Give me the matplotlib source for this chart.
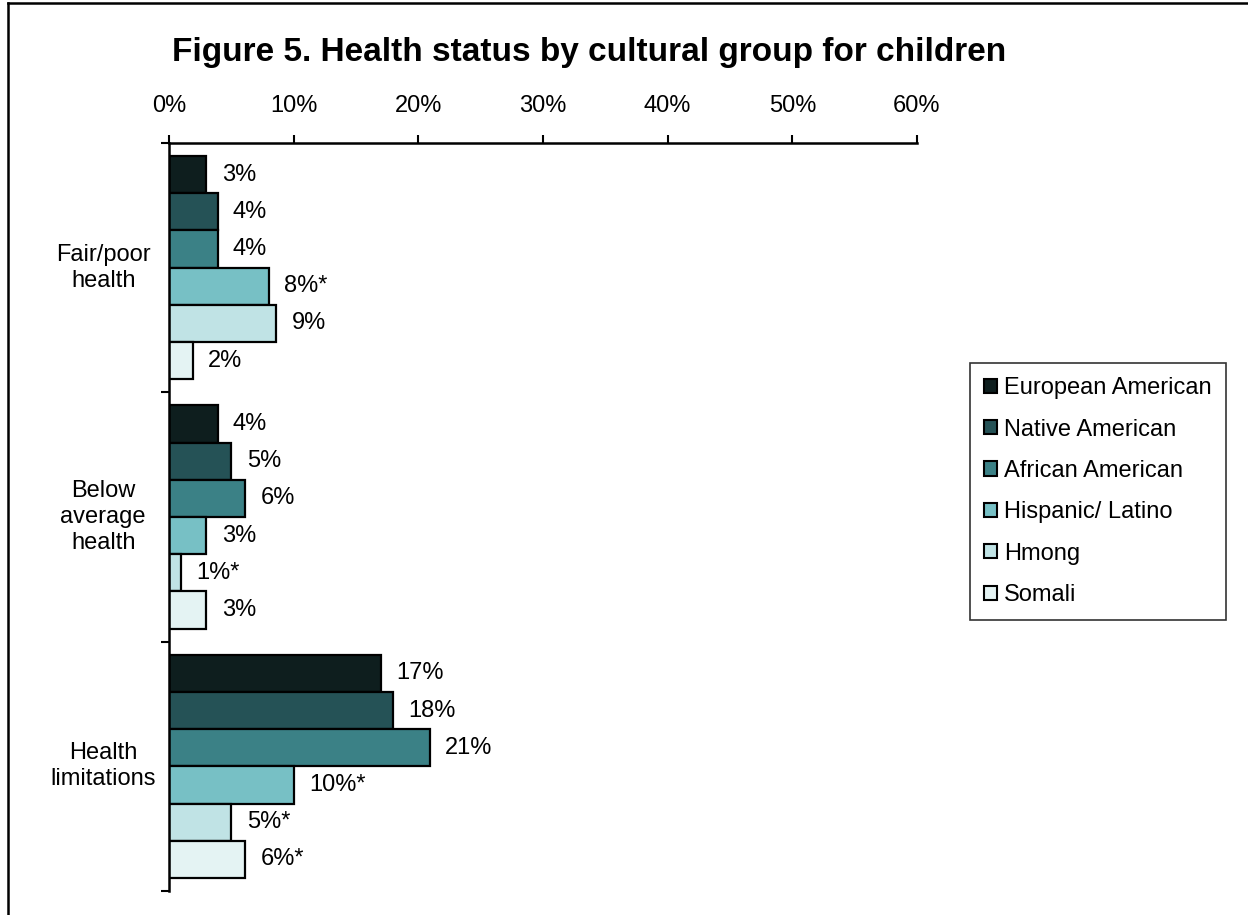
import numpy as np
import matplotlib
matplotlib.use('Agg')
from matplotlib import pyplot as plt
from matplotlib.ticker import FixedLocator, FuncFormatter
from matplotlib.lines import Line2D
from matplotlib.patches import Patch

plt.rcParams['font.family'] = ['Liberation Sans', 'DejaVu Sans']

categories = ['Fair/poor\nhealth', 'Below\naverage\nhealth', 'Health\nlimitations']
groups = ['European American', 'Native American', 'African American',
          'Hispanic/ Latino', 'Hmong', 'Somali']
colors = ['#0e1e1e', '#255256', '#3b8186', '#77c0c5', '#c0e3e5', '#e4f3f3']

european = [3.0, 3.9, 17.0]
native = [3.9, 5.0, 18.0]
african = [3.9, 6.1, 20.9]
hispanic = [8.0, 3.0, 10.0]
hmong = [8.6, 1.0, 5.0]
somali = [1.9, 3.0, 6.1]

european_lbl = ['3%', '4%', '17%']
native_lbl = ['4%', '5%', '18%']
african_lbl = ['4%', '6%', '21%']
hispanic_lbl = ['8%*', '3%', '10%*']
hmong_lbl = ['9%', '1%*', '5%*']
somali_lbl = ['2%', '3%', '6%*']

series = [european, native, african, hispanic, hmong, somali]
labels = [european_lbl, native_lbl, african_lbl, hispanic_lbl, hmong_lbl, somali_lbl]

fig = plt.figure(figsize=(12.48, 9.15), dpi=100)
ax = fig.add_axes([169 / 1248, 1 - 891 / 915, 748 / 1248, 748 / 915])

n = len(groups)
bar_h = 0.895 / n
y = np.arange(len(categories))
for i in range(n):
    pos = y - 0.4475 + bar_h * (i + 0.5)
    ax.barh(pos, series[i], height=bar_h, color=colors[i],
            edgecolor='black', linewidth=1.6, label=groups[i])
    for p, v, t in zip(pos, series[i], labels[i]):
        ax.annotate(t, (v, p), xytext=(11, 0), textcoords='offset points',
                    ha='left', va='center', fontsize=17)

ax.set_xlim(0, 60)
ax.set_ylim(2.5, -0.5)
ax.xaxis.tick_top()
ax.xaxis.set_major_locator(FixedLocator([0, 10, 20, 30, 40, 50, 60]))
ax.xaxis.set_major_formatter(FuncFormatter(lambda v, p: f'{v:.0f}%'))
ax.tick_params(axis='x', direction='out', length=6, width=1.5, pad=13, labelsize=17)

ax.yaxis.set_major_locator(FixedLocator([-0.5, 0.5, 1.5, 2.5]))
ax.set_yticklabels([])
ax.tick_params(axis='y', direction='out', length=6, width=1.5)

for s in ['right', 'bottom']:
    ax.spines[s].set_visible(False)
for s in ['top', 'left']:
    ax.spines[s].set_linewidth(1.8)

for yy, c in zip(y, categories):
    ax.text(-0.088, yy, c, transform=ax.get_yaxis_transform(), ha='center',
            va='center', multialignment='center', fontsize=17, linespacing=1.25)

fig.text(589 / 1248, 1 - 53 / 915, 'Figure 5. Health status by cultural group for children',
         ha='center', va='center', fontsize=24, fontweight='bold')

handles = [Patch(facecolor=c, edgecolor='black', linewidth=1.5) for c in colors]
leg = fig.legend(handles, groups, loc='upper left', bbox_to_anchor=(970 / 1248, 1 - 363 / 915),
                 bbox_transform=fig.transFigure, fontsize=17, frameon=True, fancybox=False,
                 handlelength=0.55, handleheight=0.55, handletextpad=0.3, labelspacing=0.82,
                 borderpad=0.6, borderaxespad=0, edgecolor='black')
leg.get_frame().set_linewidth(1.2)

# outer frame of the chart area
fig.add_artist(Line2D([8 / 1248, 8 / 1248], [0, 1 - 3 / 915], transform=fig.transFigure,
                      color='black', linewidth=1.8))
fig.add_artist(Line2D([8 / 1248, 1], [1 - 3 / 915, 1 - 3 / 915], transform=fig.transFigure,
                      color='black', linewidth=1.8))

fig.savefig('out.png', dpi=100)
